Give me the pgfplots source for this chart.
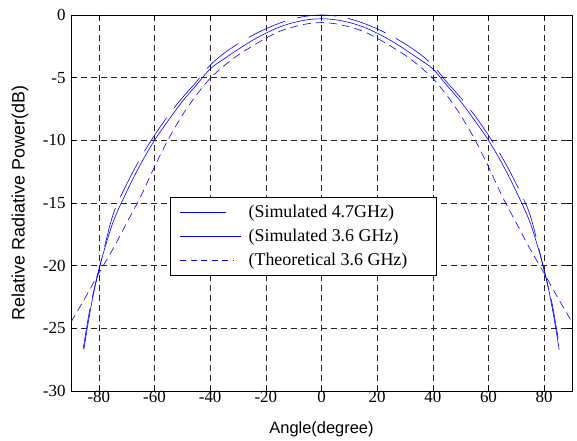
\documentclass[border=0pt]{standalone}
\usepackage{fontspec}
\setmainfont{Liberation Serif}
\newfontfamily\arial{Liberation Sans}
\usepackage{pgfplots}
\pgfplotsset{compat=1.18}
\begin{document}
\begin{tikzpicture}[x=1bp,y=1bp]
\begin{axis}[
  at={(0,0)}, anchor=south west,
  scale only axis, width=501bp, height=376bp,
  xmin=-90, xmax=90, ymin=-30, ymax=0,
  xtick={-80,-60,...,80}, ytick={-30,-25,...,0},
  tick align=inside, major tick length=5bp,
  tick style={black, line width=0.5bp},
  axis line style={black, line width=0.6bp},
  grid=major,
  major grid style={black!85, line width=0.5bp, dash pattern=on 6bp off 4bp},
  /pgf/number format/assume math mode=true,
  tick label style={font=\fontsize{17}{18}\selectfont},
  xticklabel style={yshift=3bp},
  yticklabel style={xshift=-2bp},
  xlabel={\arial Angle(degree)},
  ylabel={\arial Relative Radiative Power(dB)},
  xlabel style={font=\fontsize{16.5}{17}\selectfont, at={(axis description cs:0.5,-0.103)}, anchor=center},
  ylabel style={font=\fontsize{18}{19}\selectfont, at={(axis description cs:-0.102,0.5)}, anchor=center},
  legend style={at={(rel axis cs:0.197,0.516)}, anchor=north west,
    line width=0.6bp, font=\fontsize{18}{20}\selectfont,
    inner xsep=7bp, inner ysep=6bp, row sep=6bp, cells={anchor=west}},
  legend cell align=left,
]
% Simulated 4.7GHz (solid, middle)
\addplot[blue, line width=0.6bp, smooth, tension=0.5, forget plot]
coordinates {
(-85.4,-26.7) (-83,-23.5) (-80,-20.3) (-75,-16.6) (-70,-14.1) (-65,-11.9)
(-60,-10.0) (-55,-8.4) (-50,-6.9) (-45,-5.6) (-40,-4.3) (-35,-3.5)
(-30,-2.75) (-25,-2.05) (-20,-1.45) (-15,-0.95) (-10,-0.6) (-5,-0.38)
(0,-0.3)
(5,-0.38) (10,-0.6) (15,-0.95) (20,-1.45) (25,-2.05) (30,-2.75)
(35,-3.5) (40,-4.3) (45,-5.6) (50,-6.9) (55,-8.4) (60,-10.0)
(65,-11.9) (70,-14.1) (75,-16.6) (80,-20.3) (83,-23.5) (85.4,-26.7)
};
% Simulated 3.6 GHz (long dash, outer)
\addplot[blue, line width=0.6bp, smooth, tension=0.5, dash pattern=on 40bp off 12bp, forget plot]
coordinates {
(-85.6,-26.6) (-83,-23.2) (-80,-20.4) (-75,-16.0) (-70,-13.5) (-65,-11.4)
(-60,-9.6) (-55,-8.0) (-50,-6.6) (-45,-5.35) (-40,-4.0) (-35,-3.05)
(-30,-2.3) (-25,-1.65) (-20,-1.1) (-15,-0.65) (-10,-0.3) (-5,-0.08)
(0,0)
(5,-0.08) (10,-0.3) (15,-0.65) (20,-1.1) (25,-1.65) (30,-2.3)
(35,-3.05) (40,-4.0) (45,-5.35) (50,-6.6) (55,-8.0) (60,-9.6)
(65,-11.4) (70,-13.5) (75,-16.0) (80,-20.4) (83,-23.2) (85.6,-26.6)
};
% Theoretical 3.6 GHz (dashed, inner)
\addplot[blue, line width=0.6bp, smooth, tension=0.5, dash pattern=on 8bp off 5bp, forget plot]
coordinates {
(-90,-24.5) (-85,-22.6) (-80,-20.6) (-75,-18.7) (-70,-16.6) (-65,-14.5)
(-60,-12.1) (-55,-9.9) (-50,-8.0) (-45,-6.4) (-40,-5.05) (-35,-4.05)
(-30,-3.2) (-25,-2.5) (-20,-1.85) (-15,-1.3) (-10,-0.95) (-5,-0.7)
(0,-0.6)
(5,-0.7) (10,-0.95) (15,-1.3) (20,-1.85) (25,-2.5) (30,-3.2)
(35,-4.05) (40,-5.05) (45,-6.4) (50,-8.0) (55,-9.9) (60,-12.1)
(65,-14.5) (70,-16.6) (75,-18.7) (80,-20.6) (85,-22.6) (90,-24.5)
};
\addlegendimage{legend image code/.code={%
  \fill[blue] (3bp,-0.3bp) rectangle (48bp,0.3bp);\path (0bp,0bp) (69bp,0bp);}}
\addlegendentry{(Simulated 4.7GHz)}
\addlegendimage{legend image code/.code={%
  \fill[blue] (3bp,-0.3bp) rectangle (63bp,0.3bp);\path (0bp,0bp) (69bp,0bp);}}
\addlegendentry{(Simulated 3.6 GHz)}
\addlegendimage{legend image code/.code={%
  \draw[blue, line width=0.7bp, dash pattern=on 6bp off 4.5bp] (3bp,0bp)--(56bp,0bp);\path (0bp,0bp) (69bp,0bp);}}
\addlegendentry{(Theoretical 3.6 GHz)\kern20bp\null}
\end{axis}
\path[use as bounding box] (-71bp,-50bp) rectangle (506bp,391bp);
\end{tikzpicture}
\end{document}
